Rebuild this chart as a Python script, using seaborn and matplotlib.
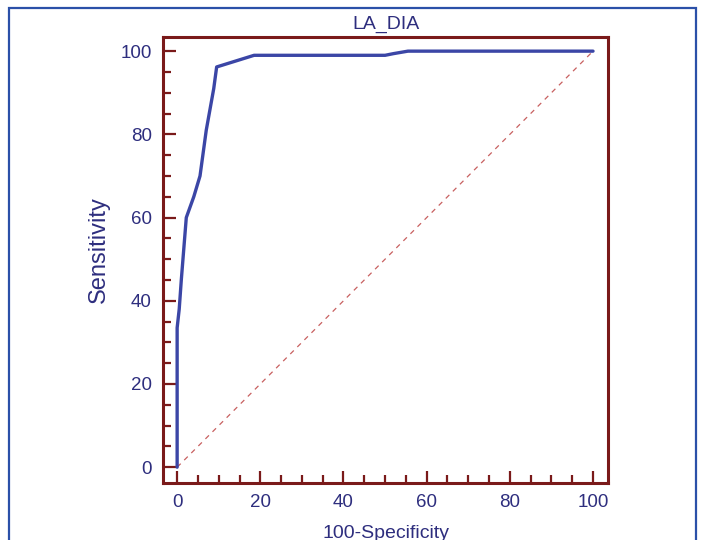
import matplotlib
matplotlib.use("Agg")
import matplotlib.pyplot as plt
import seaborn as sns
import pandas as pd
from matplotlib.ticker import MultipleLocator
from matplotlib.patches import Rectangle

# ROC curve data
fpr = [0, 0, 0.5, 1.0, 2.2, 4.0, 5.5, 7.0, 8.8, 9.5, 18.5, 50.0, 52.0, 55.5, 100]
tpr = [0, 33.5, 38, 45, 60, 65, 70, 81, 91, 96.2, 99.0, 99.0, 99.4, 100, 100]
diag = [0, 100]
title = "LA_DIA"
xlabel = "100-Specificity"
ylabel = "Sensitivity"
ticks = [0, 20, 40, 60, 80, 100]

sns.set_theme(style="white")
plt.rcParams['font.family'] = ['Liberation Sans', 'DejaVu Sans']

fig = plt.figure(figsize=(7.02, 5.4), dpi=100)
ax = fig.add_axes([163/702, 57/540, 445/702, 446/540])

spine_c = "#7a1a1a"
label_c = "#2e2e7e"
curve_c = "#3b46a6"

df = pd.DataFrame({"fpr": fpr, "tpr": tpr})
sns.lineplot(data=df, x="fpr", y="tpr", sort=False, estimator=None,
             color=curve_c, linewidth=2.4, ax=ax, zorder=3)
ax.plot(diag, diag, linestyle=(0, (4, 4)), color="#c86060", linewidth=0.9, zorder=2)

ax.set_xlim(-3.4, 103.6)
ax.set_ylim(-3.8, 103.4)
ax.set_xticks(ticks)
ax.set_yticks(ticks)
ax.xaxis.set_minor_locator(MultipleLocator(5))
ax.yaxis.set_minor_locator(MultipleLocator(5))
ax.tick_params(axis="both", which="major", direction="in", length=9, width=1.6,
               color=spine_c, labelcolor=label_c, labelsize=13.5, pad=8)
ax.tick_params(axis="both", which="minor", direction="in", length=5.5, width=1.6,
               color=spine_c)
ax.tick_params(axis="x", which="both", bottom=True, top=False)
ax.tick_params(axis="y", which="both", left=True, right=False)
for s in ax.spines.values():
    s.set_color(spine_c)
    s.set_linewidth(2.2)
    s.set_visible(True)

ax.set_xlabel(xlabel, color=label_c, fontsize=14, labelpad=10)
ax.set_ylabel(ylabel, color=label_c, fontsize=17)
ax.yaxis.set_label_coords(-0.12, 0.523)
ax.set_title(title, color=label_c, fontsize=14, pad=6)

# outer frame
frame = Rectangle((9/702, -0.1), (696-9)/702, (540-8)/540 + 0.1,
                  transform=fig.transFigure, fill=False, edgecolor="#2b50a8",
                  linewidth=1.6, clip_on=False)
fig.patches.append(frame)

fig.savefig("out.png", dpi=100)
